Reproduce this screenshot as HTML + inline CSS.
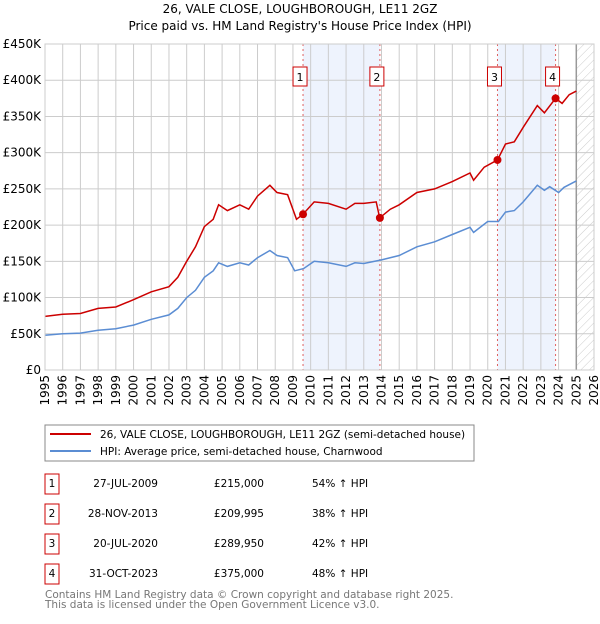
<!DOCTYPE html>
<html><head><meta charset="utf-8"><style>
body{margin:0;background:#fff;font-family:"DejaVu Sans","Liberation Sans",sans-serif;}
svg text{font-family:"DejaVu Sans","Liberation Sans",sans-serif;}
</style></head><body>
<svg id="c" width="600" height="620" xmlns="http://www.w3.org/2000/svg">
<defs><pattern id="hatch" width="6" height="6" patternUnits="userSpaceOnUse" patternTransform="rotate(45)"><line x1="0" y1="0" x2="0" y2="6" stroke="#ccc" stroke-width="1"/></pattern></defs>
<text x="300" y="13" text-anchor="middle" font-size="12">26, VALE CLOSE, LOUGHBOROUGH, LE11 2GZ</text>
<text x="300" y="30" text-anchor="middle" font-size="12">Price paid vs. HM Land Registry's House Price Index (HPI)</text>
<g id="plot"></g>
<rect x="45" y="425" width="429" height="36" fill="#fff" stroke="#888"/>
<line x1="50" y1="434" x2="91" y2="434" stroke="#cc0000" stroke-width="2"/>
<text x="100" y="438" font-size="10.5">26, VALE CLOSE, LOUGHBOROUGH, LE11 2GZ (semi-detached house)</text>
<line x1="50" y1="451" x2="91" y2="451" stroke="#5b8dd3" stroke-width="2"/>
<text x="100" y="455" font-size="10.5">HPI: Average price, semi-detached house, Charnwood</text>
<g id="table"></g>
<text x="45" y="598" font-size="10.5" fill="#777">Contains HM Land Registry data © Crown copyright and database right 2025.</text>
<text x="45" y="608" font-size="10.5" fill="#777">This data is licensed under the Open Government Licence v3.0.</text>
</svg>
<script>
const hpiYears=[1995,1996,1997,1998,1999,2000,2001,2002,2002.5,2003,2003.5,2004,2004.5,2004.8,2005.3,2006,2006.5,2007,2007.7,2008.1,2008.7,2009.1,2009.6,2010.2,2011,2012,2012.5,2013,2014,2015,2016,2017,2018,2019,2019.2,2020,2020.6,2021,2021.5,2022,2022.8,2023.2,2023.5,2024,2024.3,2025];
const hpiValues=[48,50,51,55,57,62,70,76,85,100,110,128,137,148,143,148,145,155,165,158,155,137,140,150,148,143,148,147,152,158,170,177,187,197,190,205,205,218,220,232,255,248,253,245,252,261];
const propYears=[1995,1996,1997,1998,1999,2000,2001,2002,2002.5,2003,2003.5,2004,2004.5,2004.8,2005.3,2006,2006.5,2007,2007.7,2008.1,2008.7,2009.2,2009.57,2010.2,2011,2012,2012.5,2013,2013.7,2013.9,2014.5,2015,2016,2017,2018,2019,2019.2,2019.8,2020.55,2021,2021.5,2022,2022.8,2023.2,2023.83,2024.2,2024.6,2025];
const propValues=[74,77,78,85,87,97,108,115,128,150,170,198,208,228,220,228,222,240,255,245,242,208,215,232,230,222,230,230,232,210,222,228,245,250,260,272,262,280,290,312,315,335,365,355,375,368,380,385];
const saleLabels=["1","2","3","4"];
const saleDates=[2009.57,2013.91,2020.55,2023.83];
const saleDateText=["27-JUL-2009","28-NOV-2013","20-JUL-2020","31-OCT-2023"];
const salePrices=[215,209.995,289.95,375];
const salePriceText=["£215,000","£209,995","£289,950","£375,000"];
const saleHpiText=["54% ↑ HPI","38% ↑ HPI","42% ↑ HPI","48% ↑ HPI"];
const yTicks=[0,50,100,150,200,250,300,350,400,450];
const yTickLabels=["£0","£50K","£100K","£150K","£200K","£250K","£300K","£350K","£400K","£450K"];
const xTicks=[1995,1996,1997,1998,1999,2000,2001,2002,2003,2004,2005,2006,2007,2008,2009,2010,2011,2012,2013,2014,2015,2016,2017,2018,2019,2020,2021,2022,2023,2024,2025,2026];
const X0=45,X1=594,Y0=370,Y1=44;
const xs=v=>X0+(v-1995)/(2026-1995)*(X1-X0);
const ys=v=>Y0-v/450*(Y0-Y1);
const NS="http://www.w3.org/2000/svg";
const plot=document.getElementById('plot');
function mk(tag,attrs,parent){const e=document.createElementNS(NS,tag);for(const k in attrs)e.setAttribute(k,attrs[k]);(parent||plot).appendChild(e);return e;}
for(let i=0;i<saleDates.length;i+=2){
 const r=mk('rect',{x:xs(saleDates[i]),y:Y1,width:xs(saleDates[i+1])-xs(saleDates[i]),height:Y0-Y1,fill:'#eef3fd'});
 
 
}
const h=mk('rect',{x:xs(2025),y:Y1,width:X1-xs(2025),height:Y0-Y1,fill:'url(#hatch)'});


yTicks.forEach((t,i)=>{
 const l=mk('line',{x1:X0,x2:X1,y1:ys(t),y2:ys(t),stroke:'#ccc'});
 
 
 const tx=mk('text',{x:X0-4,y:ys(t)+4,'text-anchor':'end','font-size':'12'});
 tx.textContent=yTickLabels[i];
 
 
});
xTicks.forEach(t=>{
 const l=mk('line',{x1:xs(t),x2:xs(t),y1:Y1,y2:Y0,stroke:'#ccc'});
 
 
 const tx=mk('text',{x:0,y:0,'text-anchor':'end','font-size':'12',transform:`translate(${xs(t)+4},${Y0+5}) rotate(-90)`});
 tx.textContent=t;
 
 
});
const v=mk('line',{x1:xs(2025),x2:xs(2025),y1:Y1,y2:Y0,stroke:'#999','stroke-width':1.5});


saleDates.forEach((d,i)=>{
 const l=mk('line',{x1:xs(d),x2:xs(d),y1:Y1,y2:Y0,stroke:'#e06060','stroke-dasharray':'2,3'});
 
 
 const b=mk('rect',{x:xs(d)-10,y:67,width:14,height:19,fill:'#fff',stroke:'#cc0000'});
 
 
 const t=mk('text',{x:xs(d)-3,y:81,'text-anchor':'middle','font-size':'11'});
 t.textContent=saleLabels[i];
 
 
});
const pts=(xa,va)=>xa.map((x,i)=>xs(x).toFixed(1)+','+ys(va[i]).toFixed(1)).join(' ');
const hl=mk('polyline',{points:pts(hpiYears,hpiValues),fill:'none',stroke:'#5b8dd3','stroke-width':1.5});


const pl=mk('polyline',{points:pts(propYears,propValues),fill:'none',stroke:'#cc0000','stroke-width':1.5});


saleDates.forEach((d,i)=>{
 const c=mk('circle',{cx:xs(d),cy:ys(salePrices[i]),r:4,fill:'#cc0000'});
 
 
});
mk('rect',{x:X0,y:Y1,width:X1-X0,height:Y0-Y1,fill:'none',stroke:'#ccc'});
const tb=document.getElementById('table');
saleDates.forEach((d,i)=>{
 const cy=483+i*30;
 const b=mk('rect',{x:45,y:cy-9,width:14,height:20,fill:'#fff',stroke:'#cc0000'},tb);
 
 
 const n=mk('text',{x:52,y:cy+4,'text-anchor':'middle','font-size':'10.5'},tb);
 n.textContent=saleLabels[i];
 
 
 const dt=mk('text',{x:158,y:cy+4,'text-anchor':'end','font-size':'10.5'},tb);
 dt.textContent=saleDateText[i];
 
 
 const p=mk('text',{x:264,y:cy+4,'text-anchor':'end','font-size':'10.5'},tb);
 p.textContent=salePriceText[i];
 
 
 const hp=mk('text',{x:312,y:cy+4,'font-size':'10.5'},tb);
 hp.textContent=saleHpiText[i];
 
 
});
</script>
</body></html>
